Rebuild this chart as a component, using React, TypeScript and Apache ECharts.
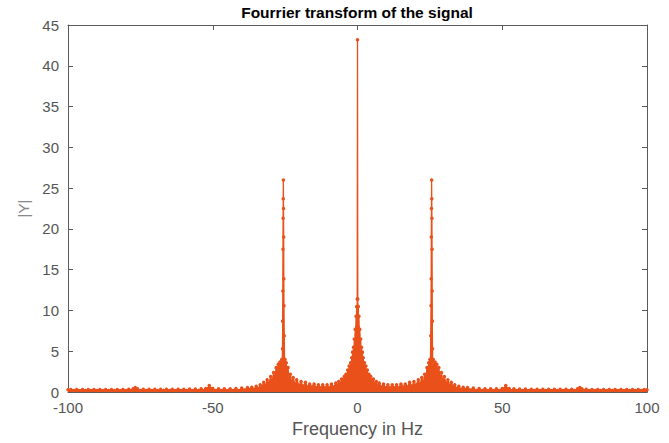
import React, { useEffect, useRef } from "react";
import * as echarts from "echarts";

// Positive-frequency half of the (symmetric) spectrum, [Hz, |Y|]
const centralLobe: [number, number][] = [
  [0, 43.2], [0.1, 11.4], [0.2, 8.0], [0.3, 10.5], [0.4, 7.0], [0.5, 9.3], [0.65, 6.0], [0.8, 7.7],
  [0.95, 5.0], [1.1, 6.5], [1.25, 4.2], [1.4, 5.5], [1.55, 3.6], [1.7, 4.9], [1.85, 3.0], [2.0, 4.2],
  [2.2, 2.6], [2.4, 3.6], [2.65, 2.2], [2.9, 3.2], [3.15, 1.9], [3.4, 2.7], [3.7, 1.6], [4.0, 2.2],
  [4.3, 1.3], [4.6, 1.9], [5.0, 1.1], [5.5, 1.6], [6.0, 0.9], [6.5, 1.3], [7.0, 0.7], [7.5, 1.1],
  [8.2, 0.6], [9.0, 1.0], [9.8, 0.5], [10.5, 0.9], [11.2, 0.5], [12.0, 0.9], [12.8, 0.5], [13.5, 0.9],
  [14.2, 0.5], [15.0, 1.0], [15.8, 0.6], [16.5, 1.0], [17.2, 0.6], [18.0, 1.2], [18.8, 0.7], [19.5, 1.3],
  [20.2, 0.8], [21.0, 1.5], [21.6, 0.9], [22.2, 1.8], [22.7, 1.0], [23.2, 2.2], [23.6, 1.3], [24.0, 3.0],
  [24.3, 1.8], [24.6, 3.6], [24.8, 2.2], [25.0, 4.0], [25.15, 3.0],
];
const sideLobe: [number, number][] = [
  [25.3, 6.9], [25.4, 10.6], [25.45, 13.9], [25.5, 19.0], [25.55, 22.5], [25.6, 26.0], [25.65, 23.7],
  [25.7, 21.3], [25.75, 17.5], [25.8, 12.4], [25.85, 8.7], [25.9, 5.3], [26.05, 3.0], [26.2, 4.0],
  [26.5, 2.8], [26.8, 3.7], [27.1, 2.4], [27.4, 3.4], [27.8, 2.0], [28.1, 3.0], [28.5, 1.6], [29.0, 2.4],
  [29.5, 1.2], [30.0, 1.9], [30.6, 1.0], [31.2, 1.5], [31.8, 0.8], [32.4, 1.2], [33.0, 0.6], [33.6, 0.9],
  [34.3, 0.4], [35.0, 0.7], [35.8, 0.3], [36.5, 0.6], [37.3, 0.3], [38.0, 0.55], [39.0, 0.25], [40.0, 0.5],
];
const tail: [number, number][] = [
  [41, 0.2], [42, 0.45], [43, 0.2], [44, 0.4], [45, 0.2], [46, 0.4], [47, 0.2], [48, 0.4], [49, 0.2],
  [50, 0.45], [50.6, 0.4], [51.2, 0.8], [51.8, 0.4], [52.4, 0.45], [53, 0.2], [54, 0.4], [55, 0.2],
  [56, 0.38], [57, 0.2], [58, 0.38], [59, 0.2], [60, 0.36], [61, 0.2], [62, 0.36], [63, 0.2], [64, 0.35],
  [65, 0.2], [66, 0.35], [67, 0.2], [68, 0.35], [69, 0.2], [70, 0.35], [71, 0.2], [72, 0.35], [73, 0.2],
  [74, 0.35], [75, 0.2], [76, 0.4], [76.8, 0.55], [77.5, 0.4], [78, 0.2], [79, 0.35], [80, 0.2],
  [81, 0.33], [82, 0.2], [83, 0.33], [84, 0.2], [85, 0.33], [86, 0.2], [87, 0.33], [88, 0.2], [89, 0.33],
  [90, 0.2], [91, 0.33], [92, 0.2], [93, 0.33], [94, 0.2], [95, 0.33], [96, 0.2], [97, 0.33], [98, 0.2],
  [99, 0.33], [100, 0.3],
];

const xTicks = { min: -100, max: 100, interval: 50 };
const yTicks = { min: 0, max: 45, interval: 5 };

const titleText = "Fourrier transform of the signal";
const xLabel = "Frequency in Hz";
const yLabel = "|Y|";

const FONT = "'Liberation Sans', Arial, Helvetica, sans-serif";
const LINE = "#ea511a";
const AXIS = "#5a5a5a";
const TICKTXT = "#555555";

export default function App() {
  const ref = useRef<HTMLDivElement>(null);
  useEffect(() => {
    if (!ref.current) return;
    const chart = echarts.init(ref.current, null, { renderer: "svg" });
    const half = [...centralLobe, ...sideLobe, ...tail];
    const data: [number, number][] = [];
    for (let i = half.length - 1; i >= 1; i--) data.push([-half[i][0], half[i][1]]);
    for (let i = 0; i < half.length; i++) data.push([half[i][0], half[i][1]]);

    const axisCommon = {
      axisLine: { show: true, onZero: false, lineStyle: { color: AXIS, width: 1 } },
      axisTick: { show: true, inside: true, length: 5, lineStyle: { color: AXIS } },
      splitLine: { show: false },
    };

    chart.setOption({
      animation: false,
      backgroundColor: "#ffffff",
      grid: { left: 68, right: 22, top: 25, bottom: 42, containLabel: false },
      graphic: [
        {
          type: "text",
          x: 357,
          y: 12,
          style: {
            text: titleText,
            font: `bold 15.5px ${FONT}`,
            fill: "#000000",
            textAlign: "center",
            textVerticalAlign: "middle",
          },
        },
      ],
      xAxis: [
        {
          type: "value",
          position: "bottom",
          ...xTicks,
          ...axisCommon,
          name: xLabel,
          nameLocation: "middle",
          nameGap: 22,
          nameTextStyle: { fontFamily: FONT, fontSize: 18, color: "#555555" },
          axisLabel: { fontFamily: FONT, fontSize: 15, color: TICKTXT, margin: 8 },
        },
        {
          type: "value",
          position: "top",
          ...xTicks,
          ...axisCommon,
          axisLabel: { show: false },
        },
      ],
      yAxis: [
        {
          type: "value",
          position: "left",
          ...yTicks,
          ...axisCommon,
          name: yLabel,
          nameLocation: "middle",
          nameGap: 34,
          nameTextStyle: { fontFamily: FONT, fontSize: 15, color: "#888888" },
          axisLabel: { fontFamily: FONT, fontSize: 15, color: TICKTXT, margin: 9 },
        },
        {
          type: "value",
          position: "right",
          ...yTicks,
          ...axisCommon,
          axisLabel: { show: false },
        },
      ],
      series: [
        {
          type: "line",
          xAxisIndex: 0,
          yAxisIndex: 0,
          data,
          showSymbol: true,
          symbol: "circle",
          symbolSize: 3.5,
          itemStyle: { color: LINE },
          lineStyle: { color: LINE, width: 1.3 },
          areaStyle: { color: LINE, opacity: 1 },
          clip: true,
        },
      ],
    });
    return () => chart.dispose();
  }, []);
  return (
    <div
      ref={ref}
      style={{ position: "fixed", left: 0, top: 0, width: 669, height: 443, background: "#fff" }}
    />
  );
}
